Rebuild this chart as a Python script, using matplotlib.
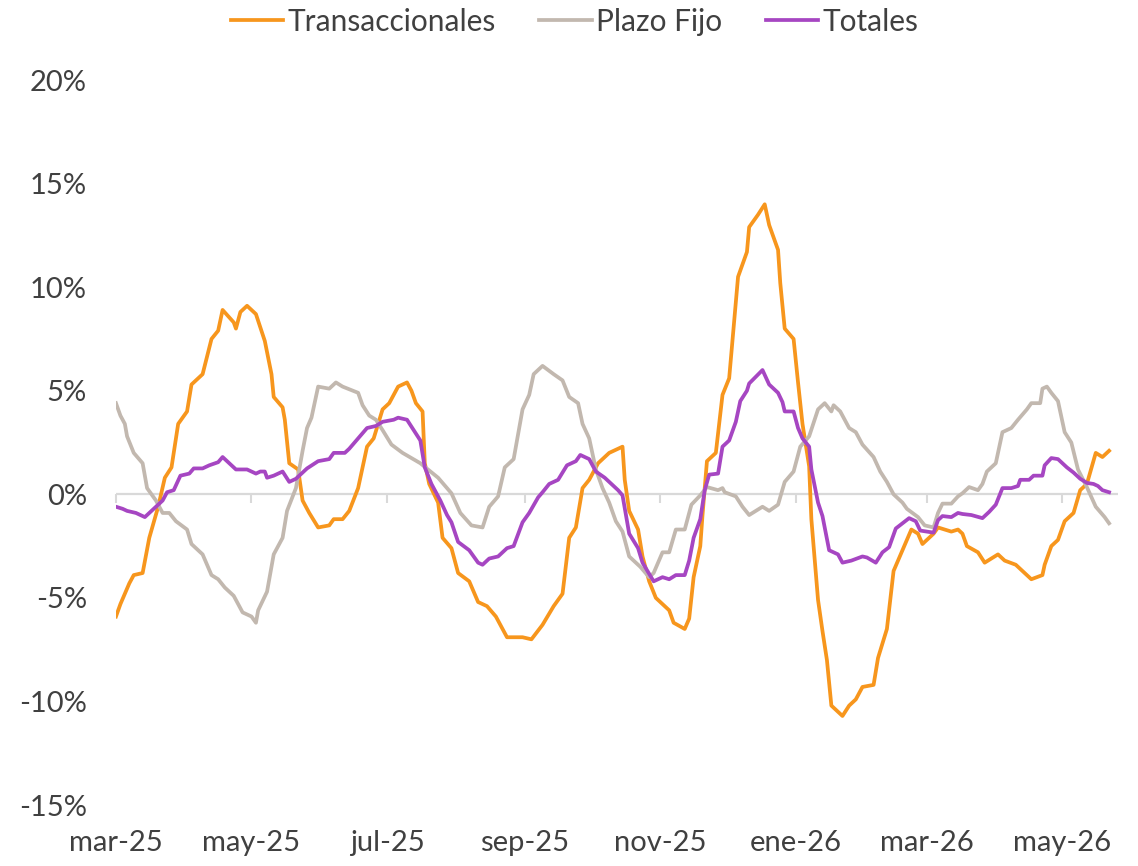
import pandas as pd
import matplotlib
matplotlib.use("Agg")
import matplotlib.pyplot as plt
import matplotlib.dates as mdates
from matplotlib.ticker import FuncFormatter

plt.rcParams['font.family'] = ['Lato', 'DejaVu Sans']

# variación %, días contados desde el 1-mar-25
inicio = pd.Timestamp("2025-03-01")

dias_trans = [0, 2, 6, 8, 12, 15, 19, 22, 25, 28, 32, 34, 39, 43, 46, 48, 53, 54, 56, 59,
              63, 67, 70, 71, 75, 76, 78, 82, 84, 87, 91, 96, 98, 102, 105, 109, 113, 116, 120, 123,
              127, 131, 133, 135, 138, 139, 141, 145, 147, 151, 154, 159, 163, 167, 171, 176, 183, 187, 192, 197,
              201, 204, 207, 210, 213, 217, 222, 228, 229, 231, 235, 237, 240, 243, 249, 251, 256, 258, 260, 263,
              264, 266, 270, 273, 276, 280, 284, 285, 289, 292, 294, 298, 299, 301, 305, 307, 309, 312, 313, 316,
              318, 320, 322, 325, 327, 330, 333, 336, 341, 343, 347, 350, 354, 358, 361, 363, 365, 368, 370, 376,
              379, 381, 383, 388, 391, 397, 400, 405, 408, 412, 417, 418, 421, 424, 427, 431, 434, 437, 441, 444,
              447]
trans = [-5.9, -5.3, -4.3, -3.9, -3.8, -2.1, -0.6, 0.8, 1.3, 3.4, 4.0, 5.3, 5.8, 7.5, 7.9, 8.9, 8.3, 8.0, 8.8, 9.1,
         8.7, 7.4, 5.8, 4.7, 4.2, 3.6, 1.5, 1.2, -0.3, -0.9, -1.6, -1.5, -1.2, -1.2, -0.8, 0.3, 2.3, 2.7, 4.1, 4.4,
         5.2, 5.4, 5.0, 4.4, 4.0, 1.5, 0.5, -0.4, -2.1, -2.6, -3.8, -4.2, -5.2, -5.4, -5.9, -6.9, -6.9, -7.0, -6.3, -5.4,
         -4.8, -2.1, -1.6, 0.3, 0.7, 1.5, 2.0, 2.3, 0.7, -0.8, -1.7, -3.0, -4.2, -5.0, -5.6, -6.2, -6.5, -6.0, -4.0, -2.5,
         -1.0, 1.6, 2.0, 4.8, 5.6, 10.5, 11.7, 12.9, 13.5, 14.0, 13.0, 11.8, 10.2, 8.0, 7.5, 5.4, 3.4, 1.35, -1.2, -5.1,
         -6.6, -8.0, -10.2, -10.5, -10.7, -10.2, -9.9, -9.3, -9.2, -7.9, -6.5, -3.7, -2.7, -1.7, -1.9, -2.4, -2.2, -1.9, -1.6, -1.8,
         -1.7, -1.9, -2.5, -2.8, -3.3, -2.9, -3.2, -3.4, -3.7, -4.1, -3.9, -3.4, -2.5, -2.2, -1.3, -0.9, 0.2, 0.5, 2.0, 1.8,
         2.1]

dias_plazo = [0, 2, 4, 5, 8, 12, 14, 18, 21, 24, 27, 32, 34, 39, 43, 46, 49, 53, 57, 61,
              63, 64, 68, 71, 75, 77, 81, 84, 86, 88, 91, 96, 99, 102, 109, 111, 114, 117, 120, 124,
              129, 137, 145, 151, 155, 160, 165, 168, 172, 175, 179, 183, 186, 188, 192, 197, 201, 204, 208, 210,
              213, 216, 219, 222, 225, 228, 231, 236, 240, 242, 246, 249, 252, 256, 259, 263, 266, 271, 273, 274,
              279, 282, 285, 291, 294, 298, 301, 305, 308, 312, 316, 319, 322, 323, 326, 330, 333, 336, 341, 344,
              347, 350, 354, 356, 361, 364, 368, 370, 372, 376, 379, 381, 384, 388, 390, 392, 396, 399, 403, 406,
              410, 412, 416, 417, 419, 421, 424, 427, 430, 433, 437, 441, 445, 447]
plazo = [4.4, 3.8, 3.4, 2.8, 2.0, 1.5, 0.3, -0.3, -0.9, -0.9, -1.3, -1.7, -2.4, -2.9, -3.9, -4.1, -4.5, -4.9, -5.7, -5.9,
         -6.2, -5.6, -4.7, -2.9, -2.1, -0.8, 0.3, 2.1, 3.2, 3.7, 5.2, 5.1, 5.4, 5.2, 4.9, 4.3, 3.8, 3.6, 3.1, 2.4,
         2.0, 1.5, 0.8, 0.05, -0.9, -1.5, -1.6, -0.6, -0.1, 1.3, 1.7, 4.1, 4.8, 5.8, 6.2, 5.8, 5.5, 4.7, 4.4, 3.4,
         2.7, 1.2, 0.3, -0.4, -1.3, -1.8, -3.0, -3.5, -4.0, -3.8, -2.8, -2.8, -1.7, -1.7, -0.5, -0.05, 0.35, 0.2, 0.3, 0.1,
         -0.1, -0.6, -1.0, -0.6, -0.8, -0.5, 0.6, 1.1, 2.3, 2.8, 4.1, 4.4, 4.0, 4.3, 4.0, 3.2, 3.0, 2.4, 1.8, 1.1,
         0.6, 0.0, -0.4, -0.7, -1.1, -1.5, -1.6, -0.9, -0.45, -0.45, -0.1, 0.05, 0.35, 0.2, 0.5, 1.1, 1.5, 3.0, 3.2, 3.6,
         4.1, 4.4, 4.4, 5.1, 5.2, 4.9, 4.5, 3.0, 2.5, 1.2, 0.35, -0.6, -1.1, -1.4]

dias_tot = [0, 3, 5, 9, 13, 16, 20, 21, 23, 26, 29, 33, 35, 39, 42, 46, 48, 51, 54, 59,
            63, 65, 67, 68, 71, 75, 78, 81, 86, 91, 96, 98, 103, 105, 109, 113, 117, 120, 125, 127,
            131, 134, 137, 139, 142, 146, 149, 151, 154, 159, 163, 165, 168, 172, 176, 179, 183, 186, 190, 192,
            195, 199, 203, 207, 209, 213, 216, 220, 226, 228, 231, 235, 237, 242, 246, 249, 252, 256, 258, 260,
            263, 265, 267, 271, 273, 276, 279, 281, 284, 285, 291, 294, 298, 300, 301, 305, 307, 309, 312, 313,
            316, 318, 321, 325, 327, 331, 336, 338, 342, 345, 348, 351, 354, 357, 360, 362, 368, 370, 372, 376,
            379, 381, 385, 390, 393, 396, 399, 403, 406, 407, 411, 413, 417, 418, 421, 424, 428, 431, 434, 437,
            440, 442, 444, 447]
tot = [-0.6, -0.7, -0.8, -0.9, -1.1, -0.8, -0.4, -0.3, 0.1, 0.2, 0.9, 1.0, 1.25, 1.25, 1.4, 1.55, 1.8, 1.5, 1.2, 1.2,
       1.0, 1.1, 1.1, 0.8, 0.9, 1.1, 0.6, 0.75, 1.25, 1.6, 1.7, 2.0, 2.0, 2.2, 2.7, 3.2, 3.3, 3.5, 3.6, 3.7,
       3.6, 3.1, 2.6, 1.3, 0.5, -0.3, -1.0, -1.35, -2.3, -2.7, -3.3, -3.4, -3.1, -3.0, -2.6, -2.5, -1.35, -0.9, -0.15, 0.1,
       0.5, 0.7, 1.4, 1.6, 1.9, 1.7, 1.1, 0.8, 0.2, -0.05, -1.9, -2.6, -3.3, -4.2, -4.0, -4.1, -3.9, -3.9, -3.2, -2.1,
       -1.2, 0.2, 0.95, 1.0, 2.3, 2.6, 3.5, 4.5, 5.0, 5.35, 6.0, 5.3, 4.9, 4.45, 4.0, 4.0, 3.2, 2.7, 2.3, 1.2,
       -0.4, -1.05, -2.7, -2.9, -3.3, -3.2, -3.0, -3.05, -3.3, -2.8, -2.55, -1.65, -1.4, -1.15, -1.3, -1.75, -1.85, -1.25, -1.05, -1.1,
       -0.9, -0.95, -1.0, -1.15, -0.85, -0.5, 0.3, 0.3, 0.4, 0.7, 0.7, 0.9, 0.9, 1.4, 1.75, 1.7, 1.3, 1.05, 0.75, 0.55,
       0.5, 0.4, 0.2, 0.1]

series = ["Transaccionales", "Plazo Fijo", "Totales"]
colores = ["#F7961D", "#C2B8AF", "#A646C2"]

meses = ["ene", "feb", "mar", "abr", "may", "jun", "jul", "ago", "sep", "oct", "nov", "dic"]
texto = "#404040"


def fechas(d):
    return inicio + pd.to_timedelta(d, unit="D")


def mes_es(x, pos):
    f = mdates.num2date(x)
    return "%s-%s" % (meses[f.month - 1], f.strftime("%y"))


fig = plt.figure(figsize=(11.38, 8.66), dpi=100)
ax = fig.add_axes([0.1019, 0.0704, 0.8805, 0.8372])

ax.axhline(0, color="#D9D9D9", lw=1.6, zorder=1)

datos = [(dias_trans, trans), (dias_plazo, plazo), (dias_tot, tot)]
for (d, v), nombre, c in zip(datos, series, colores):
    ax.plot(fechas(d), v, color=c, lw=2.7, label=nombre, zorder=3, solid_joinstyle="round")

ax.set_xlim(inicio, inicio + pd.Timedelta(days=451))
ax.set_ylim(-15, 20)
ax.set_yticks(range(-15, 21, 5))
ax.yaxis.set_major_formatter(FuncFormatter(lambda y, p: "%d%%" % y))

loc = mdates.MonthLocator(bymonth=[1, 3, 5, 7, 9, 11])
ax.xaxis.set_major_locator(loc)
ax.xaxis.set_major_formatter(FuncFormatter(mes_es))

for s in ax.spines.values():
    s.set_visible(False)
ax.tick_params(axis="y", length=0, pad=21, labelsize=21, labelcolor=texto)
ax.tick_params(axis="x", length=0, pad=18, labelsize=21, labelcolor=texto)

# marcas del eje horizontal sobre la línea del cero
eje0 = ax.secondary_xaxis(15 / 35)
eje0.xaxis.set_major_locator(mdates.MonthLocator(bymonth=[1, 3, 5, 7, 9, 11]))
eje0.tick_params(axis="x", length=6.5, width=1.5, color="#D9D9D9", labelbottom=False, labeltop=False)
for s in eje0.spines.values():
    s.set_visible(False)

fig.legend(loc="upper center", bbox_to_anchor=(0.505, 1.022), ncol=3, frameon=False,
           fontsize=21.5, labelcolor=texto, handlelength=1.75, handletextpad=0.15, columnspacing=1.45)

fig.savefig("out.png", dpi=100)
